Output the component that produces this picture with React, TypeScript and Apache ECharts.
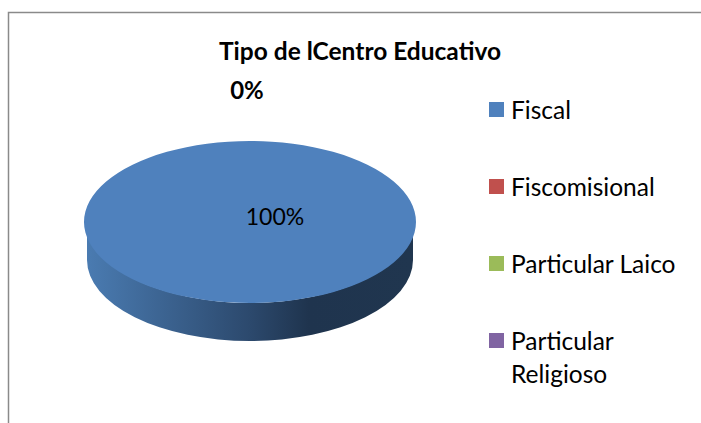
import React, { useEffect, useRef } from "react";
import * as echarts from "echarts";

const chartTitle = "Tipo de lCentro Educativo";
const categories = ["Fiscal", "Fiscomisional", "Particular Laico", "Particular Religioso"];
const shares = [100, 0, 0, 0];
const colors = ["#4f81bd", "#c0504d", "#9bbb59", "#8064a2"];

const FONT = "Lato";
const CX = 250;
const CY = 222;
const RX = 166;
const RY = 81;
const SIDE_RX = 163;
const DEPTH = 38;
const total = shares.reduce((a, b) => a + b, 0);

function sliceAngles(i: number) {
  const before = shares.slice(0, i).reduce((a, b) => a + b, 0);
  const start = -Math.PI / 2 + (before / total) * Math.PI * 2;
  return [start, start + (shares[i] / total) * Math.PI * 2];
}

function renderSlice(i: number) {
  return (_params: any, api: any) => {
    const value = api.value(0);
    const [start, end] = sliceAngles(i);
    const children: any[] = [];
    if (value > 0) {
      const a = Math.max(start, 0);
      const b = Math.min(end, Math.PI);
      if (b > a) {
        const ax = CX + SIDE_RX * Math.cos(a);
        const ay = CY + RY * Math.sin(a);
        const bx = CX + SIDE_RX * Math.cos(b);
        const by = CY + RY * Math.sin(b);
        children.push({
          type: "path",
          shape: {
            pathData:
              `M${ax} ${ay}A${SIDE_RX} ${RY} 0 0 1 ${bx} ${by}` +
              `L${bx} ${by + DEPTH}A${SIDE_RX} ${RY} 0 0 0 ${ax} ${ay + DEPTH}Z`,
            x: CX - SIDE_RX,
            y: CY,
            width: SIDE_RX * 2,
            height: RY + DEPTH,
            layout: "cover",
          },
          style: {
            fill: new echarts.graphic.LinearGradient(0, 0, 1, 0, [
              { offset: 0, color: "#4a7bb1" },
              { offset: 0.5, color: "#2c496d" },
              { offset: 0.68, color: "#1f344e" },
              { offset: 1, color: "#20364f" },
            ]),
          },
        });
      }
      children.push({
        type: "sector",
        x: CX,
        y: CY,
        scaleY: RY / RX,
        shape: { cx: 0, cy: 0, r0: 0, r: RX, startAngle: start, endAngle: end, clockwise: true },
        style: { fill: colors[i] },
      });
      children.push({
        type: "text",
        x: 275,
        y: 216,
        style: {
          text: `${value}%`,
          font: `23px ${FONT}`,
          fill: "#000000",
          align: "center",
          verticalAlign: "middle",
        },
      });
    } else if (i === shares.indexOf(0)) {
      children.push({
        type: "text",
        x: 247,
        y: 89,
        style: {
          text: `${value}%`,
          font: `bold 24px ${FONT}`,
          fill: "#000000",
          align: "center",
          verticalAlign: "middle",
        },
      });
    }
    return { type: "group", children };
  };
}

export default function App() {
  const ref = useRef<HTMLDivElement>(null);
  useEffect(() => {
    document.body.style.margin = "0";
    const chart = echarts.init(ref.current!, null, { renderer: "svg" });
    const legendBase = {
      orient: "vertical" as const,
      left: 489,
      itemWidth: 15,
      itemHeight: 15,
      itemGap: 44,
      padding: 0,
      icon: "rect",
      selectedMode: false,
    };
    const legendText = {
      fontFamily: FONT,
      fontSize: 24.5,
      color: "#000000",
      lineHeight: 33,
      padding: [0, 0, 0, 2],
    };
    chart.setOption({
      animation: false,
      backgroundColor: "#ffffff",
      title: {
        text: chartTitle,
        left: 360,
        top: 38,
        textAlign: "center",
        padding: 0,
        textStyle: { fontFamily: FONT, fontSize: 24.5, fontWeight: "bold", color: "#000000" },
      },
      legend: [
        { ...legendBase, top: 93, data: categories.slice(0, 3), textStyle: legendText },
        {
          ...legendBase,
          top: 291,
          data: categories.slice(3),
          textStyle: legendText,
          formatter: (name: string) => "\n" + name.replace(" ", "\n"),
        },
      ],
      graphic: [
        {
          type: "polyline",
          silent: true,
          shape: { points: [[8.5, 423], [8.5, 12.5], [701, 12.5]] },
          style: { stroke: "#8a8a8a", lineWidth: 1.5, fill: "none" },
        },
      ],
      series: categories.map((name, i) => ({
        type: "custom",
        name,
        coordinateSystem: "none",
        itemStyle: { color: colors[i] },
        data: [[shares[i]]],
        renderItem: renderSlice(i),
      })),
    });
    return () => chart.dispose();
  }, []);
  return <div ref={ref} style={{ width: 701, height: 423 }} />;
}
